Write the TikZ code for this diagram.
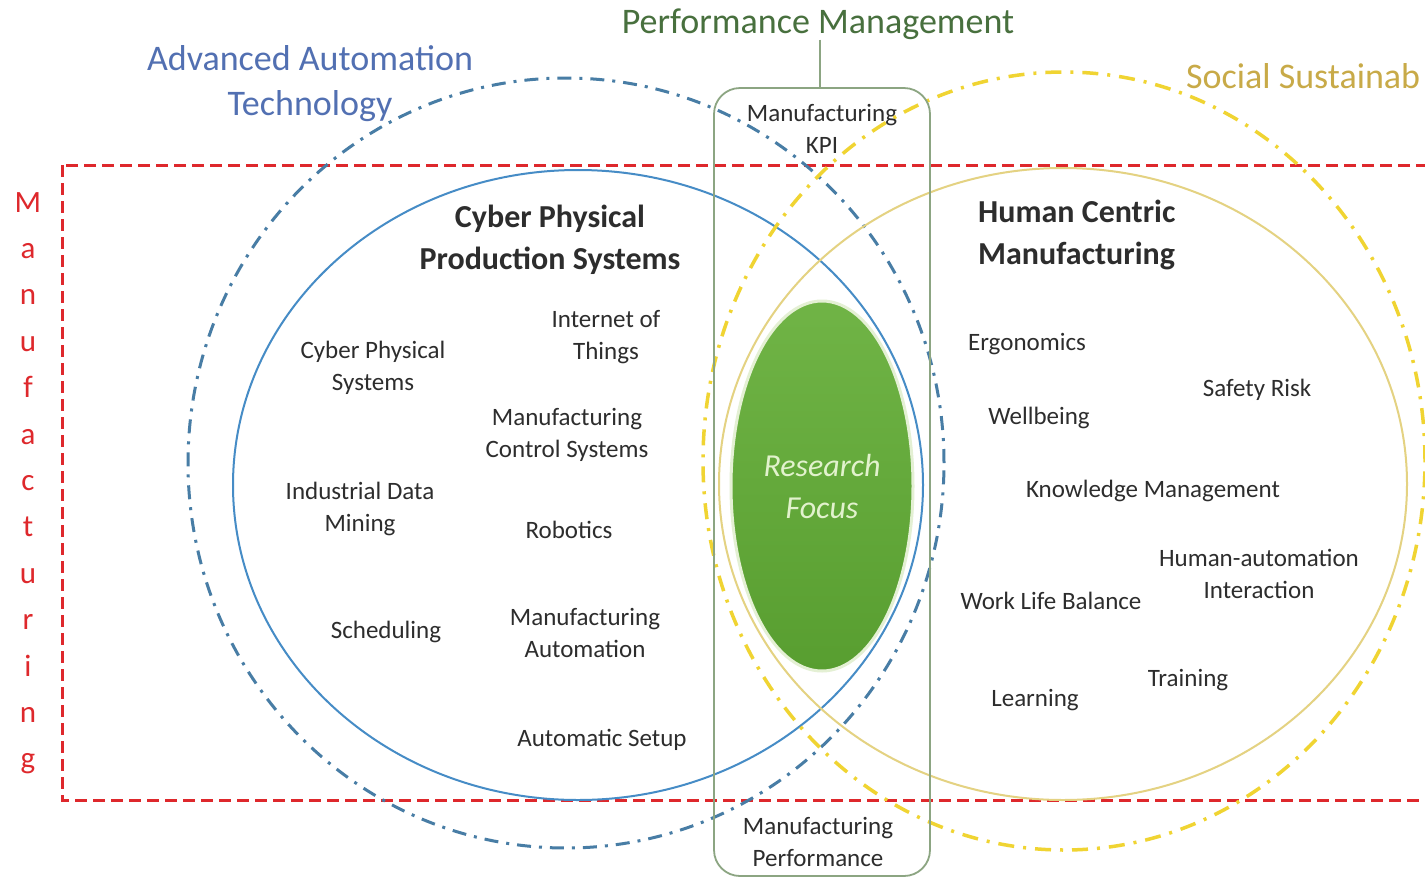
\documentclass[tikz,border=0pt]{standalone}
\usepackage{fontspec}
\setmainfont{Carlito}
\usetikzlibrary{shapes.geometric}
\definecolor{mred}{RGB}{222,40,44}
\definecolor{bsolid}{RGB}{70,140,198}
\definecolor{bdash}{RGB}{72,125,165}
\definecolor{ysolid}{RGB}{228,210,130}
\definecolor{ydash}{RGB}{240,212,50}
\definecolor{gbox}{RGB}{140,165,130}
\definecolor{gtop}{RGB}{112,180,70}
\definecolor{gbot}{RGB}{88,158,48}
\definecolor{gedge}{RGB}{228,240,212}
\definecolor{rftext}{RGB}{226,242,205}
\definecolor{txt}{RGB}{45,45,45}
\definecolor{aatext}{RGB}{82,112,178}
\definecolor{pmtext}{RGB}{72,112,62}
\definecolor{sstext}{RGB}{200,170,72}
\begin{document}
\begin{tikzpicture}[x=1pt,y=-1pt,
  item/.style={align=center,text=txt,font=\fontsize{25}{32}\selectfont,inner sep=0pt},
  head/.style={align=center,text=txt,font=\fontsize{32}{42}\selectfont\bfseries,inner sep=0pt},
  big/.style={align=center,font=\fontsize{36}{45}\selectfont,inner sep=0pt},
  letter/.style={text=mred,font=\fontsize{31}{31}\selectfont,inner sep=0pt,anchor=base},
  dashdot/.style={dash pattern=on 14pt off 8pt on 3pt off 8pt,line width=3pt},
  ring/.style={ellipse,inner sep=0pt}]
\clip (0,0) rectangle (1425,879);
\fill[white] (0,0) rectangle (1425,879);

% Manufacturing frame
\draw[mred,line width=3pt,dash pattern=on 12pt off 6pt] (62,165) rectangle (1460,800);
\foreach \l [count=\i] in {M,a,n,u,f,a,c,t,u,r,i,n,g}
  \node[letter] (m\i) at (28,{212+46.4*(\i-1)}) {\l};

% circles
\node[ring,draw=bdash,dashdot,minimum width=756pt,minimum height=770pt] (aat) at (566,463) {};
\node[ring,draw=bsolid,line width=2pt,minimum width=690pt,minimum height=630pt] (cpps) at (578,485) {};
\node[ring,draw=ydash,dash pattern=on 16pt off 9pt on 3pt off 9pt,line width=3.5pt,minimum width=722pt,minimum height=778pt] (ss) at (1064,461) {};
\node[ring,draw=ysolid,line width=2pt,minimum width=688pt,minimum height=632pt] (hcm) at (1063,484) {};

% performance management box
\draw[gbox,line width=1.8pt,rounded corners=26pt] (714,88) rectangle (930,876);
\coordinate (boxtop) at (820,88);
\node[big,text=pmtext] (pm) at (818,24) {Performance Management};
\draw[gbox,line width=1.8pt] (pm.south -| boxtop) -- (boxtop);

% research focus
\node[ring,draw=gedge,line width=3pt,top color=gtop,bottom color=gbot,minimum width=182pt,minimum height=370pt,
  text=rftext,align=center,font=\fontsize{32}{42}\selectfont\itshape] (rf) at (822,486) {Research\\Focus};

% labels
\node[big,text=aatext] (aatl) at (310,84) {Advanced Automation\\Technology};
\node[big,text=sstext,anchor=west] (ssl) at (1186,76) {Social Sustainab};
\node[item] (kpi) at (822,129) {Manufacturing\\KPI};
\node[item] (mperf) at (818,842) {Manufacturing\\Performance};

\node[head] (cppsl) at (550,240) {Cyber Physical\\Production Systems};
\node[head,align=left,anchor=west] (hcml) at (978,235) {Human Centric\\Manufacturing};

\node[item] (i1) at (373,368) {Cyber Physical\\Systems};
\node[item] (i2) at (606,337) {Internet of\\Things};
\node[item] (i3) at (567,435) {Manufacturing\\Control Systems};
\node[item] (i4) at (360,509) {Industrial Data\\Mining};
\node[item] (i5) at (569,530) {Robotics};
\node[item] (i6) at (386,632) {Scheduling};
\node[item] (i7) at (585,633) {Manufacturing\\Automation};
\node[item] (i8) at (602,740) {Automatic Setup};

\node[item] (h1) at (1027,344) {Ergonomics};
\node[item] (h2) at (1257,390) {Safety Risk};
\node[item] (h3) at (1039,418) {Wellbeing};
\node[item] (h4) at (1153,491) {Knowledge Management};
\node[item] (h5) at (1259,574) {Human-automation\\Interaction};
\node[item] (h6) at (1051,601) {Work Life Balance};
\node[item] (h7) at (1188,680) {Training};
\node[item] (h8) at (1035,700) {Learning};
\end{tikzpicture}
\end{document}
